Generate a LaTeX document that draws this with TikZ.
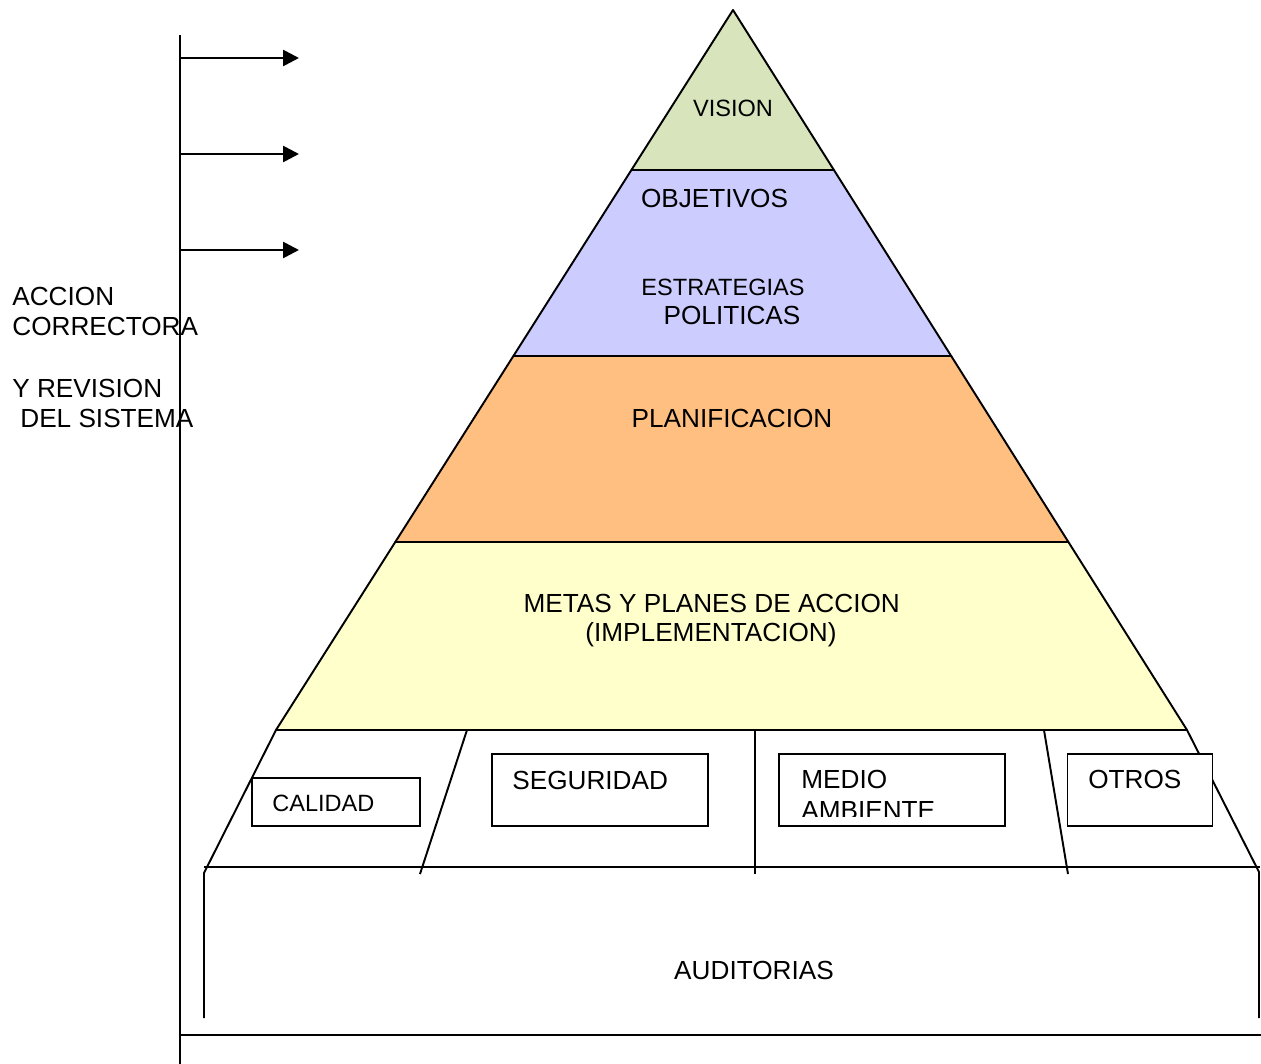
\documentclass[tikz,border=0pt]{standalone}
\usepackage{fontspec}
\setmainfont{Liberation Sans}
\usetikzlibrary{arrows.meta}

\definecolor{visiongreen}{RGB}{215,228,188}
\definecolor{objblue}{RGB}{204,204,255}
\definecolor{planorange}{RGB}{255,191,128}
\definecolor{metayellow}{RGB}{255,255,204}

\begin{document}
\begin{tikzpicture}[x=0.02cm, y=-0.02cm,
      rim/.style ={line width=1.1pt, line join=round},
      word/.style ={inner sep=0pt, anchor=base, font=\fontsize{14.9}{17.6}\selectfont},
      smallword/.style ={word, font=\fontsize{13.4}{17.6}\selectfont},
      sectorbox/.style ={draw, line width=1.1pt, fill=white, inner sep=0pt},
      feedback/.style ={line width=1.5pt, -{Triangle[length=9pt, width=9pt]}}]

   \useasboundingbox (0,0) rectangle (1261,1064);

   % pyramid layers
   \draw[rim, fill=visiongreen] (733,10) -- (833.9,170) -- (631.4,170) -- cycle;
   \draw[rim, fill=objblue] (631.4,170) -- (833.9,170) -- (951.2,356) -- (513.4,356) -- cycle;
   \draw[rim, fill=planorange] (513.4,356) -- (951.2,356) -- (1068.4,542) -- (395.3,542) -- cycle;
   \draw[rim, fill=metayellow] (395.3,542) -- (1068.4,542) -- (1187,730) -- (276,730) -- cycle;

   \node[smallword] (vision) at (733,117) {VISION};
   \node[word] (objetivos) at (714.5,208) {OBJETIVOS};
   \node[smallword] (estrategias) at (723,296) {ESTRATEGIAS};
   \node[word] (politicas) at (732,324) {POLITICAS};
   \node[word] (planificacion) at (732,427) {PLANIFICACION};
   \node[word] (metas) at (711.7,612) {METAS Y PLANES DE ACCION};
   \node[word] (implementacion) at (711,641) {(IMPLEMENTACION)};

   % base of the pyramid
   \draw[rim] (276,730) -- (204,873) -- (204,1018);
   \draw[rim] (1187,730) -- (1259,872) -- (1259,1018);
   \draw[rim] (204,867) -- (1260,867);
   \draw[rim] (467,730) -- (420,874);
   \draw[rim] (755,730) -- (755,874);
   \draw[rim] (1044,730) -- (1068,874);

   \node[sectorbox, minimum width=3.36cm, minimum height=0.96cm] (calidad) at (336,802) {};
   \node[sectorbox, minimum width=4.32cm, minimum height=1.44cm] (seguridad) at (600,790) {};
   \node[sectorbox, minimum width=4.52cm, minimum height=1.44cm] (medio) at (892,790) {};
   \node[sectorbox, minimum width=2.9cm, minimum height=1.44cm] (otros) at (1140,790) {};

   \node[smallword, anchor=base west] (calidadtxt) at (272,811) {CALIDAD};
   \node[word, anchor=base west] (seguridadtxt) at (512,789) {SEGURIDAD};
   \node[word, anchor=base west] (mediotxt) at (801,788) {MEDIO};
   \begin{scope}
      \clip (781,756) rectangle (1003,816);
      \node[word, anchor=base west] (ambientetxt) at (801,819) {AMBIENTE};
   \end{scope}
   \node[word, anchor=base west] (otrostxt) at (1088,788) {OTROS};

   \node[word] (auditorias) at (754,979) {AUDITORIAS};

   % corrective action
   \node[word, anchor=base west] (accion) at (12,305) {ACCION};
   \node[word, anchor=base west] (correctora) at (12,336) {CORRECTORA};
   \node[word, anchor=base west] (revision) at (12,397) {Y REVISION};
   \node[word, anchor=base west] (sistema) at (20,427) {DEL SISTEMA};

   \coordinate (top) at (180,35);
   \coordinate (foot) at (180,1064);
   \coordinate (r1) at (180,58);
   \coordinate (r2) at (180,154);
   \coordinate (r3) at (180,250);
   \coordinate (t1) at (299,58);
   \coordinate (t2) at (299,154);
   \coordinate (t3) at (299,250);
   \coordinate (floorl) at (180,1035);
   \coordinate (floorr) at (1261,1035);

   \draw[rim] (top) -- (foot);
   \draw[rim] (floorl) -- (floorr);
   \draw[feedback] (r1) -- (t1);
   \draw[feedback] (r2) -- (t2);
   \draw[feedback] (r3) -- (t3);

\end{tikzpicture}
\end{document}
